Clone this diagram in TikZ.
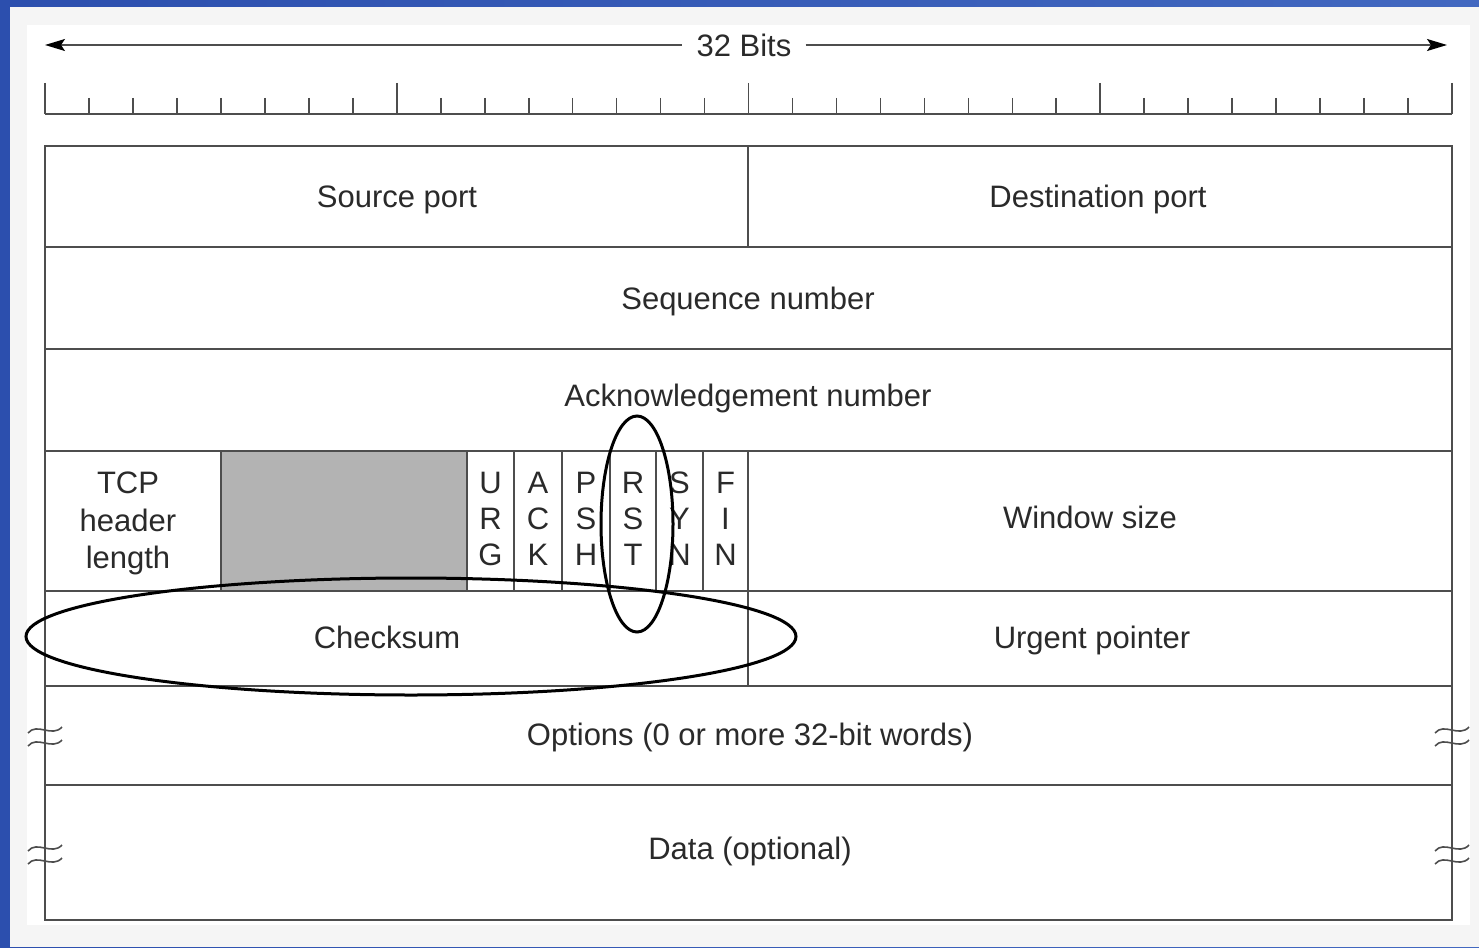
\documentclass[tikz,border=0pt]{standalone}
\usepackage{fontspec}
\setmainfont{Liberation Sans}
\usetikzlibrary{arrows.meta}
\definecolor{bgblueL}{HTML}{2C4FAE}
\definecolor{bgblueR}{HTML}{4268C0}
\definecolor{panel}{HTML}{F5F5F5}
\definecolor{linegray}{HTML}{4D4D4D}
\definecolor{txtgray}{HTML}{2A2A2A}
\definecolor{resgray}{HTML}{B3B3B3}
\tikzset{headtip/.tip={Stealth[length=20pt,width=12pt,inset=4pt,fill=black,color=black]}}
\begin{document}
\begin{tikzpicture}[x=1pt,y=-1pt,
  lbl/.style={font=\fontsize{31}{37}\selectfont, text=txtgray, inner sep=0pt, anchor=base},
  grid/.style={draw=linegray, line width=1.7pt},
  oval/.style={draw=black, line width=3pt},
  brk/.style={draw=linegray, line width=1.6pt},
  dimarrow/.style={draw=linegray, line width=1.7pt}]
\useasboundingbox (0,0) rectangle (1479,947);
\shade[left color=bgblueL, right color=bgblueR] (0,0) rectangle (1479,947);
\fill[panel] (10,7) rectangle (1479,947);
\fill[white] (27,25) rectangle (1470,925);

% 32 bits arrow
\coordinate (aL) at (45,45);
\coordinate (aR) at (1447,45);
\node[lbl, anchor=center, inner xsep=14pt] (bits) at (744,45) {32 Bits};
\draw[dimarrow, {headtip}-] (aL) -- (bits.west);
\draw[dimarrow, -{headtip}] (bits.east) -- (aR);

% ruler
\draw[grid] (45,114) -- (1452,114);
\foreach \i in {0,...,32}{
  \pgfmathtruncatemacro\m{mod(\i,8)}
  \pgfmathsetmacro\xx{45+\i*43.97}
  \ifnum\m=0
    \draw[grid] (\xx,83) -- (\xx,114);
  \else
    \draw[grid] (\xx,98) -- (\xx,114);
  \fi
}

% reserved
\fill[resgray] (221,451) rectangle (467,591);

% table
\draw[grid] (45,146) rectangle (1452,920);
\foreach \yy in {247,349,451,591,686,785}{
  \draw[grid] (45,\yy) -- (1452,\yy);
}
\draw[grid] (748,146) -- (748,247);
\draw[grid] (748,451) -- (748,686);
\foreach \xx in {221,467,514,562,610,656,703}{
  \draw[grid] (\xx,451) -- (\xx,591);
}

% break marks
\foreach \cx in {45,1452}{
  \foreach \cy in {730,743,848,861}{
    \draw[brk] (\cx-17,\cy+3) .. controls (\cx-8,\cy-8) and (\cx+7,\cy+8) .. (\cx+17,\cy-3);
  }
}

% labels
\node[lbl] (src) at (397,207) {Source port};
\node[lbl] (dst) at (1098,207) {Destination port};
\node[lbl] (seq) at (748,309) {Sequence number};
\node[lbl] (ack) at (748,406) {Acknowledgement number};
\node[lbl] (tcp1) at (128,493) {TCP};
\node[lbl] (tcp2) at (128,531) {header};
\node[lbl] (tcp3) at (128,568) {length};
\node[lbl] (win) at (1090,528) {Window size};
\node[lbl] (chk) at (387,648) {Checksum};
\node[lbl] (urg) at (1092,648) {Urgent pointer};
\node[lbl] (opt) at (750,745) {Options (0 or more 32-bit words)};
\node[lbl] (dat) at (750,859) {Data (optional)};

% flags
\foreach \cx/\a/\b/\c [count=\k] in {490.5/U/R/G, 538/A/C/K, 586/P/S/H, 633/R/S/T, 679.5/S/Y/N, 725.5/F/I/N}{
  \node[lbl] (f\k a) at (\cx,493) {\a};
  \node[lbl] (f\k b) at (\cx,529) {\b};
  \node[lbl] (f\k c) at (\cx,565) {\c};
}

% ovals
\draw[oval] (411,636.5) ellipse [x radius=385pt, y radius=58.5pt];
\draw[oval] (637,524) ellipse [x radius=36pt, y radius=108pt];
\end{tikzpicture}
\end{document}
